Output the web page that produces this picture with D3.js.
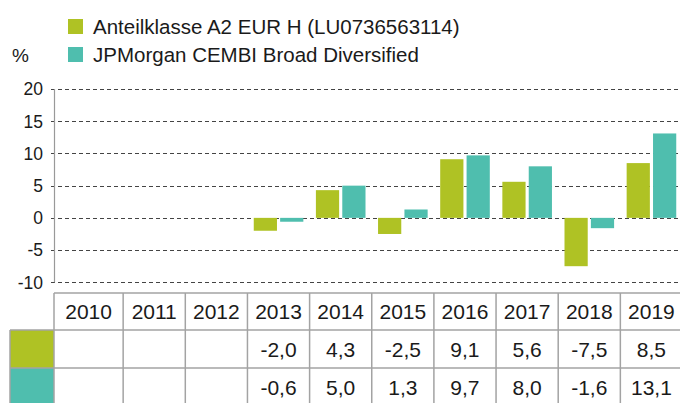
<!DOCTYPE html>
<html>
<head>
<meta charset="utf-8">
<script src="https://cdn.jsdelivr.net/npm/d3@7"></script>
<style>
  body { margin: 0; background: #fff; }
  svg { display: block; font-family: "Liberation Sans", Arial, Helvetica, sans-serif; }
</style>
</head>
<body>
<div id="chart"></div>
<script>
var years = ["2010", "2011", "2012", "2013", "2014", "2015", "2016", "2017", "2018", "2019"];
var fundValues = [null, null, null, -2.0, 4.3, -2.5, 9.1, 5.6, -7.5, 8.5];
var indexValues = [null, null, null, -0.6, 5.0, 1.3, 9.7, 8.0, -1.6, 13.1];
var seriesNames = ["Anteilklasse A2 EUR H (LU0736563114)", "JPMorgan CEMBI Broad Diversified"];
var seriesColors = ["#afc224", "#4fbeae"];
var yTicks = [-10, -5, 0, 5, 10, 15, 20];

var width = 680, height = 403;
var axisX = 54;
var gridColor = "#444", tableColor = "#a3a3a3";

var locale = d3.formatLocale({decimal: ",", thousands: ".", grouping: [3], currency: ["", " €"], minus: "-"});
var fmt1 = locale.format(".1f");
var fmt0 = locale.format("d");

var series = [fundValues, indexValues];

var svg = d3.select("#chart").append("svg")
    .attr("width", width)
    .attr("height", height);

var x = d3.scaleBand()
    .domain(years)
    .range([61, 682.5]);

var xSub = d3.scaleBand()
    .domain([0, 1])
    .range([6.3, 55.9])
    .paddingInner(0.12);

var y = d3.scaleLinear()
    .domain([-10, 20])
    .range([282.3, 89]);

// legend
var legend = svg.append("g");
seriesNames.forEach(function(name, i) {
    legend.append("rect")
        .attr("x", 68).attr("y", 19 + i * 28)
        .attr("width", 15).attr("height", 15)
        .attr("fill", seriesColors[i]);
    legend.append("text")
        .attr("x", 93).attr("y", 33.5 + i * 28)
        .attr("font-size", 20.5)
        .attr("fill", "#1a1a1a")
        .text(name);
});

svg.append("text")
    .attr("x", 12).attr("y", 61.5)
    .attr("font-size", 19)
    .attr("fill", "#1a1a1a")
    .text("%");

// gridlines
svg.append("g").selectAll("line")
    .data(yTicks)
    .join("line")
    .attr("x1", 51).attr("x2", width)
    .attr("y1", function(d) { return Math.round(y(d)) + 0.5; })
    .attr("y2", function(d) { return Math.round(y(d)) + 0.5; })
    .attr("stroke", gridColor)
    .attr("stroke-width", 1)
    .attr("stroke-dasharray", "4,3");

// y axis
svg.append("line")
    .attr("x1", axisX + 0.5).attr("x2", axisX + 0.5)
    .attr("y1", y(20)).attr("y2", y(-10))
    .attr("stroke", "#999")
    .attr("stroke-width", 1.2);

svg.append("g").selectAll("text")
    .data(yTicks)
    .join("text")
    .attr("x", 43)
    .attr("y", function(d) { return y(d); })
    .attr("dy", "0.36em")
    .attr("text-anchor", "end")
    .attr("font-size", 17.5)
    .attr("fill", "#1a1a1a")
    .text(function(d) { return fmt0(d); });

// bars
series.forEach(function(vals, s) {
    svg.append("g").selectAll("rect")
        .data(years.map(function(yr, i) { return {year: yr, v: vals[i]}; }).filter(function(d) { return d.v != null; }))
        .join("rect")
        .attr("x", function(d) { return x(d.year) + xSub(s); })
        .attr("width", xSub.bandwidth())
        .attr("y", function(d) { return y(Math.max(0, d.v)); })
        .attr("height", function(d) { return Math.abs(y(d.v) - y(0)); })
        .attr("fill", seriesColors[s]);
});

// table
var rowTops = [293, 330, 368, 406];
var table = svg.append("g");

// swatch cells
series.forEach(function(vals, s) {
    table.append("rect")
        .attr("x", 10).attr("y", rowTops[s + 1])
        .attr("width", axisX - 10).attr("height", rowTops[s + 2] - rowTops[s + 1])
        .attr("fill", seriesColors[s]);
});

// horizontal lines
rowTops.forEach(function(t, i) {
    table.append("line")
        .attr("x1", i === 0 ? axisX : 10).attr("x2", width)
        .attr("y1", t).attr("y2", t)
        .attr("stroke", tableColor).attr("stroke-width", 1.5);
});

// vertical lines
var colEdges = [10, axisX].concat(years.slice(1).map(function(yr) { return x(yr); }));
colEdges.forEach(function(cx, i) {
    table.append("line")
        .attr("x1", cx).attr("x2", cx)
        .attr("y1", i === 0 ? rowTops[1] : rowTops[0]).attr("y2", rowTops[3])
        .attr("stroke", tableColor).attr("stroke-width", 1.5);
});

function cellCenter(yr, i) {
    var left = i === 0 ? axisX : x(yr);
    return (left + x(yr) + x.bandwidth()) / 2;
}

table.append("g").selectAll("text")
    .data(years)
    .join("text")
    .attr("x", function(d, i) { return cellCenter(d, i); })
    .attr("y", (rowTops[0] + rowTops[1]) / 2)
    .attr("dy", "0.36em")
    .attr("text-anchor", "middle")
    .attr("font-size", 21)
    .attr("fill", "#1a1a1a")
    .text(function(d) { return d; });

series.forEach(function(vals, s) {
    table.append("g").selectAll("text")
        .data(years.map(function(yr, i) { return {year: yr, v: vals[i], i: i}; }).filter(function(d) { return d.v != null; }))
        .join("text")
        .attr("x", function(d) { return cellCenter(d.year, d.i); })
        .attr("y", (rowTops[s + 1] + rowTops[s + 2]) / 2)
        .attr("dy", "0.36em")
        .attr("text-anchor", "middle")
        .attr("font-size", 21)
        .attr("fill", "#1a1a1a")
        .text(function(d) { return fmt1(d.v); });
});
</script>
</body>
</html>
